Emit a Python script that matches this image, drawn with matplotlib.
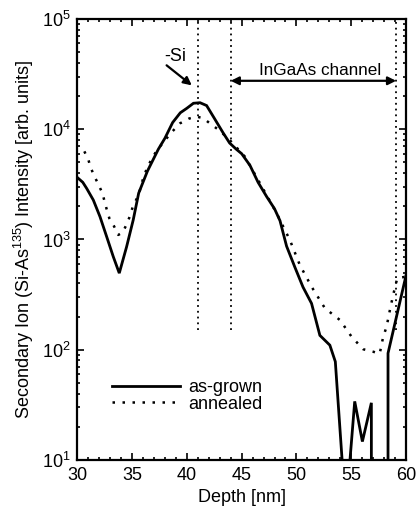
import numpy as np
import matplotlib
matplotlib.use("Agg")
import matplotlib.pyplot as plt

plt.rcParams['font.family'] = ['Liberation Sans', 'DejaVu Sans']
plt.rcParams['mathtext.fontset'] = 'custom'
plt.rcParams['mathtext.rm'] = 'Liberation Sans'
plt.rcParams['mathtext.it'] = 'Liberation Sans:italic'
plt.rcParams['mathtext.bf'] = 'Liberation Sans:bold'

# As-grown profile (depth nm, intensity)
depth_grown = [30.0, 30.5, 30.86, 31.46, 32.07, 32.68, 33.28, 33.83, 34.5, 35.1,
               35.6, 36.4, 37.4, 38.0, 38.7, 39.4, 40.0, 40.6, 41.2, 41.8,
               42.5, 43.3, 43.9, 44.5, 45.0, 45.76, 46.5, 47.28, 48.0, 48.5,
               49.1, 49.86, 50.6, 51.38, 52.14, 53.05, 53.55, 54.2, 54.5, 54.85,
               55.32, 56.02, 56.84, 57.3, 57.9, 58.36, 60.0]
int_grown = [3650, 3300, 2900, 2280, 1610, 1060, 700, 495, 860, 1500,
             2630, 4170, 6600, 8300, 11500, 14100, 15500, 17200, 17400, 16400,
             12600, 9300, 7500, 6600, 6000, 4700, 3300, 2450, 1900, 1480,
             870, 560, 370, 263, 135, 110, 78, 9, 0, 9,
             34, 14.7, 33, 0, 0, 93, 470]

# Annealed profile
depth_ann = [30.64, 31.0, 31.22, 31.55, 31.92, 32.28, 32.68, 32.92, 33.35, 33.74,
             34.14, 34.5, 34.8, 35.05, 35.4, 35.72, 35.97, 36.4, 37.2, 38.0,
             38.7, 39.37, 40.2, 40.9, 41.5, 42.1, 43.0, 43.93, 45.3, 46.67,
             48.19, 49.4, 50.3, 51.38, 52.6, 53.97, 55.04, 56.1, 57.0, 57.6,
             57.92, 58.23, 58.53, 58.83, 59.2, 60.0]
int_ann = [6300, 5330, 4480, 3770, 3160, 2650, 1880, 1560, 1320, 1100,
           1160, 1370, 1630, 1960, 2320, 2810, 3470, 4570, 6300, 7940,
           9600, 11300, 12500, 13000, 12600, 11300, 9700, 7940, 5640, 3240,
           1730, 990, 590, 373, 238, 186, 131, 101, 96, 92,
           131, 162, 229, 314, 445, 460]

# Marker lines (layer boundaries)
boundary_depths = [41.0, 44.0, 59.1]
boundary_range = [150, 1e5]

xticks = [30, 35, 40, 45, 50, 55, 60]

fig = plt.figure(figsize=(4.17, 5.20), dpi=100)
ax = fig.add_axes([0.1854, 0.1154, 0.7882, 0.8481])

ax.set_yscale('log', nonpositive='clip')
ax.plot(depth_grown, int_grown, color='black', lw=2.0, solid_joinstyle='miter',
        label='as-grown')
ax.plot(depth_ann, int_ann, color='black', lw=1.8, linestyle=(0, (1, 3)),
        dash_capstyle='butt', label='annealed')

for d in boundary_depths:
    ax.plot([d, d], boundary_range, color='black', lw=1.3, linestyle=(0, (1, 2.2)))

ax.set_xlim(30, 60)
ax.set_ylim(10, 1e5)
ax.set_xticks(xticks)
ax.xaxis.set_minor_locator(matplotlib.ticker.MultipleLocator(1))

ax.tick_params(which='both', direction='in', top=True, right=True, labelsize=13,
               width=1.2, pad=5)
ax.tick_params(which='major', length=5)
ax.tick_params(which='minor', length=2.5)
for s in ax.spines.values():
    s.set_linewidth(1.6)

ax.set_xlabel('Depth [nm]', fontsize=13, labelpad=4)
ax.set_ylabel('Secondary Ion (Si-As$^{135}$) Intensity [arb. units]', fontsize=13,
              labelpad=4)

# annotations
ax.text(38.9, 46000, '-Si', fontsize=13, ha='center', va='center')
ax.annotate('', xy=(40.45, 25000), xytext=(38.15, 38000),
            arrowprops=dict(arrowstyle='-|>', color='black', lw=1.6,
                            mutation_scale=12, shrinkA=0, shrinkB=0))
ax.annotate('', xy=(44.0, 27500), xytext=(59.1, 27500),
            arrowprops=dict(arrowstyle='<|-|>', color='black', lw=1.6,
                            mutation_scale=12, shrinkA=0, shrinkB=0))
ax.text(52.15, 33900, 'InGaAs channel', fontsize=12.3, ha='center', va='center')

ax.legend(loc='center left', bbox_to_anchor=(0.105, 0.145), frameon=False,
          fontsize=13, handlelength=3.8, handletextpad=0.45, labelspacing=-0.05,
          borderpad=0, borderaxespad=0)

fig.savefig('out.png', dpi=100)
